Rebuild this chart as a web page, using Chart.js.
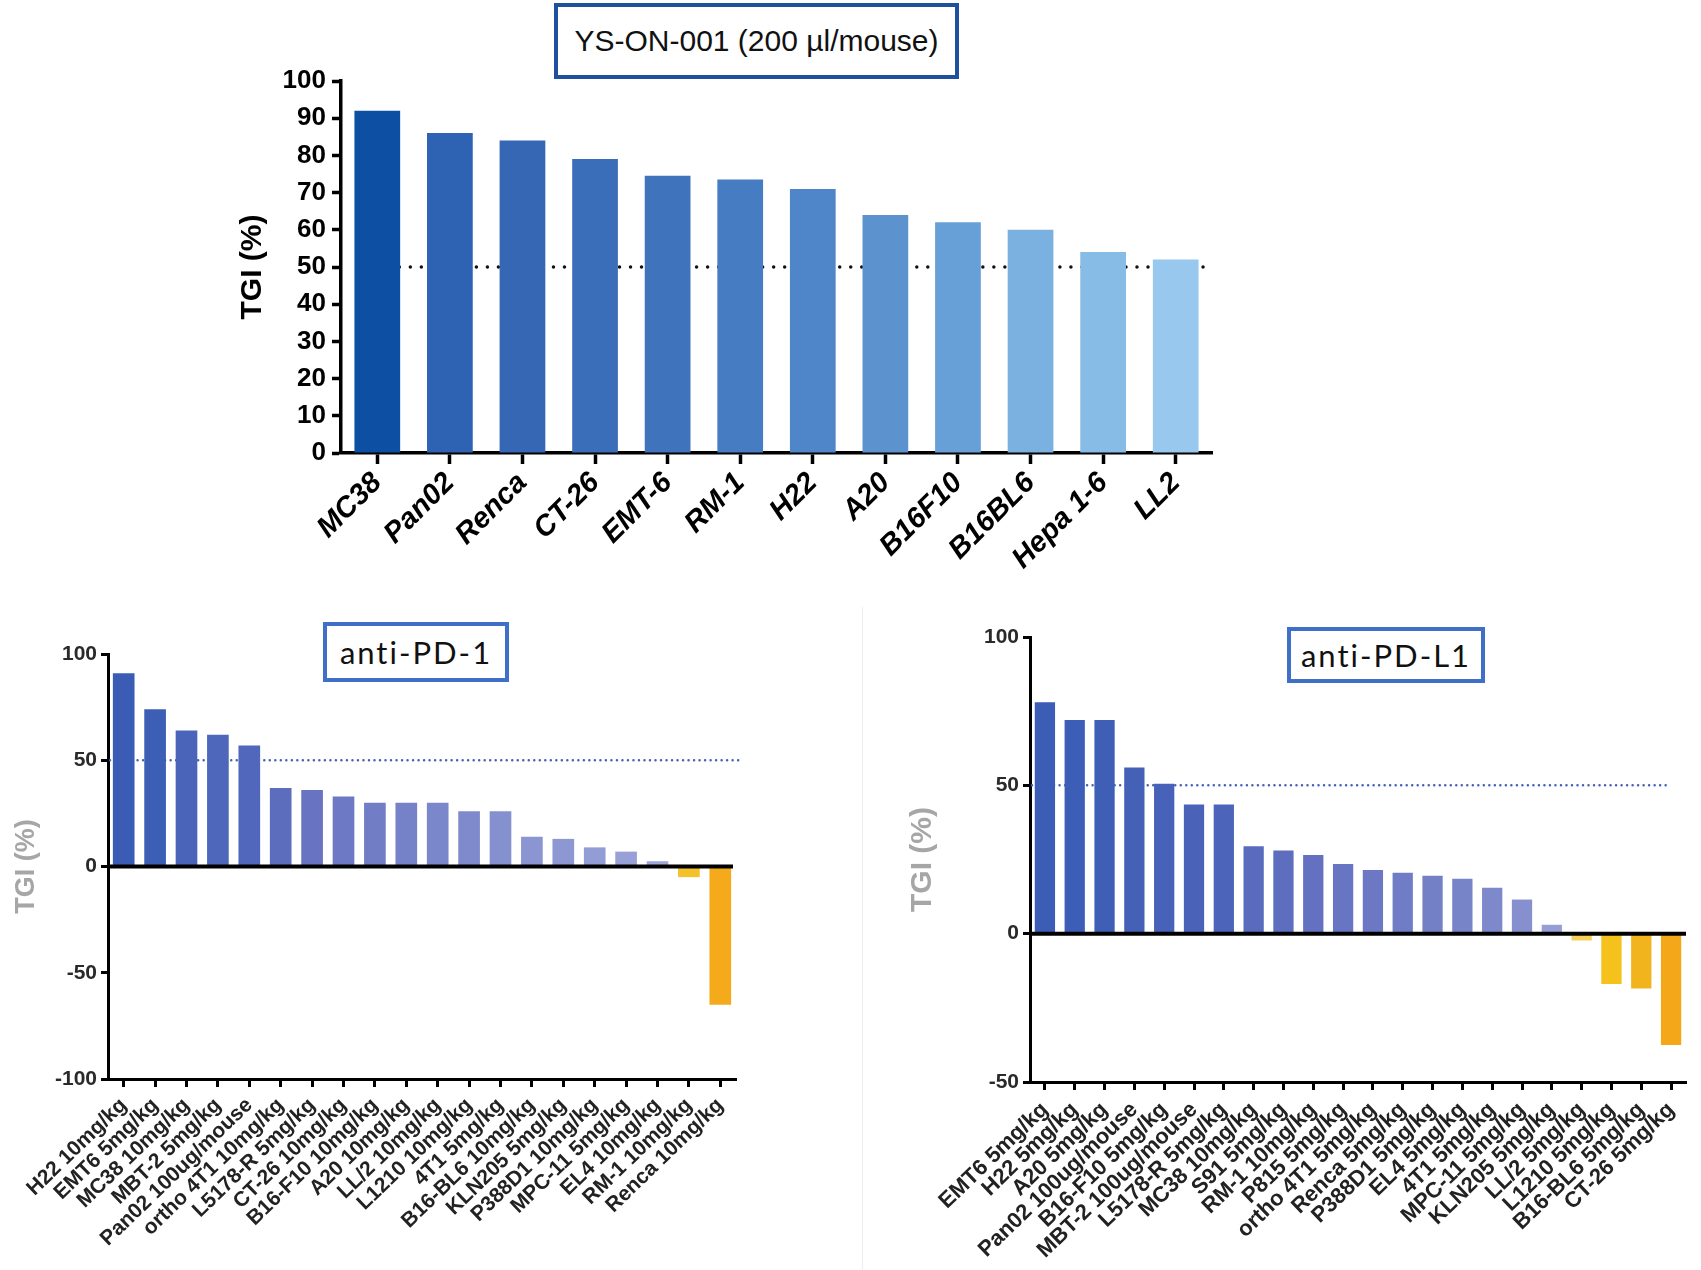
<!DOCTYPE html>
<html>
<head>
<meta charset="utf-8">
<script src="https://cdn.jsdelivr.net/npm/chart.js@4/dist/chart.umd.min.js"></script>
<style>
  html, body { margin: 0; padding: 0; background: #fff; }
  body { width: 1701px; height: 1270px; position: relative; overflow: hidden; }
  canvas { position: absolute; }
  .tbox { position: absolute; box-sizing: border-box; display: flex; align-items: center; justify-content: center; color: #111; background: #fff; }
  #boxTop { left: 554px; top: 3px; width: 405px; height: 76px; border: 4px solid #1f4f9f; font: 30px "Liberation Sans", Arial, sans-serif; }
  #boxPD1 { left: 323px; top: 622px; width: 186px; height: 60px; border: 4px solid #3f6fc6; font: 31px Lato, "Open Sans", sans-serif; letter-spacing: 2px; }
  #boxPDL1 { left: 1287px; top: 627px; width: 198px; height: 56px; border: 4px solid #3f6fc6; font: 31px Lato, "Open Sans", sans-serif; letter-spacing: 2px; }
  #sepV { position: absolute; left: 862px; top: 607px; width: 1px; height: 663px; background: #efefef; }
</style>
</head>
<body>
<div id="sepV"></div>
<canvas id="cTop" width="1080" height="580" style="left:180px;top:0px"></canvas>
<canvas id="cPD1" width="860" height="670" style="left:0px;top:600px"></canvas>
<canvas id="cPDL1" width="839" height="670" style="left:862px;top:600px"></canvas>
<div class="tbox" id="boxTop">YS-ON-001 (200 µl/mouse)</div>
<div class="tbox" id="boxPD1">anti-PD-1</div>
<div class="tbox" id="boxPDL1">anti-PD-L1</div>
<script>
// ---------------- DATA ----------------
const topCategories = ['MC38', 'Pan02', 'Renca', 'CT-26', 'EMT-6', 'RM-1', 'H22', 'A20', 'B16F10', 'B16BL6', 'Hepa 1-6', 'LL2'];
const topValues = [92, 86, 84, 79, 74.5, 73.5, 71, 64, 62, 60, 54, 52];

const pd1Categories = ['H22 10mg/kg', 'EMT6 5mg/kg', 'MC38 10mg/kg', 'MBT-2 5mg/kg', 'Pan02 100ug/mouse', 'ortho 4T1 10mg/kg', 'L5178-R 5mg/kg', 'CT-26 10mg/kg', 'B16-F10 10mg/kg', 'A20 10mg/kg', 'LL/2 10mg/kg', 'L1210 10mg/kg', '4T1 5mg/kg', 'B16-BL6 10mg/kg', 'KLN205 5mg/kg', 'P388D1 10mg/kg', 'MPC-11 5mg/kg', 'EL4 10mg/kg', 'RM-1 10mg/kg', 'Renca 10mg/kg'];
const pd1Values = [91, 74, 64, 62, 57, 37, 36, 33, 30, 30, 30, 26, 26, 14, 13, 9, 7, 2.5, -5, -65];

const pdl1Categories = ['EMT6 5mg/kg', 'H22 5mg/kg', 'A20 5mg/kg', 'Pan02 100ug/mouse', 'B16-F10 5mg/kg', 'MBT-2 100ug/mouse', 'L5178-R 5mg/kg', 'MC38 10mg/kg', 'S91 5mg/kg', 'RM-1 10mg/kg', 'P815 5mg/kg', 'ortho 4T1 5mg/kg', 'Renca 5mg/kg', 'P388D1 5mg/kg', 'EL4 5mg/kg', '4T1 5mg/kg', 'MPC-11 5mg/kg', 'KLN205 5mg/kg', 'LL/2 5mg/kg', 'L1210 5mg/kg', 'B16-BL6 5mg/kg', 'CT-26 5mg/kg'];
const pdl1Values = [78, 72, 72, 56, 50.5, 43.5, 43.5, 29.5, 28, 26.5, 23.5, 21.5, 20.5, 19.5, 18.5, 15.5, 11.5, 3, -2.3, -17, -18.5, -37.5];

const yTitle = 'TGI (%)';
const thresholdValue = 50;

// ---------------- STYLES ----------------
const topColors = ['#0c4fa3', '#2e62b3', '#3567b5', '#3b6eb9', '#3f73bc', '#467cc2', '#4f86c9', '#5c93cf', '#66a0d7', '#7bb1e0', '#87bce6', '#98c8ee'];
const pd1Colors = ['#3a5cb5', '#3c5eb5', '#4a64b9', '#4e67ba', '#5067bb', '#5d6dbe', '#6874c2', '#6d79c4', '#717ec6', '#7582c8', '#7a87ca', '#7e8acc', '#8590cf', '#8a95d1', '#8d98d3', '#929dd5', '#98a1d7', '#9fa7da', '#f3c12c', '#f5aa1c'];
const pdl1Colors = ['#3c5db6', '#3d5eb6', '#3f5fb6', '#4460b7', '#4762b8', '#4a63b8', '#4c64b9', '#5a6bbd', '#5e6ebe', '#6371c0', '#6875c2', '#6c78c3', '#707cc5', '#7480c6', '#7884c8', '#7d89ca', '#8690cf', '#959fd6', '#f6cf5a', '#f5c11d', '#f2b41d', '#f5a71a'];

const SANS = '"Liberation Sans", Arial, Helvetica, sans-serif';

// ---------------- PLUGINS ----------------
const refLinePlugin = {
  id: 'refLine',
  beforeDatasetsDraw(chart, args, o) {
    if (!o || !o.show) return;
    const {ctx, chartArea, scales} = chart;
    const y = scales.y.getPixelForValue(o.value);
    let x0 = chartArea.left + (o.startOffset || 0);
    let x1 = chartArea.right + (o.endOffset || 0);
    if (o.fromFirst) x0 = scales.x.getPixelForValue(0);
    if (o.toLast) x1 = scales.x.getPixelForValue(scales.x.getLabels().length - 1);
    ctx.save();
    ctx.strokeStyle = o.color;
    ctx.lineWidth = o.width;
    ctx.lineCap = 'round';
    ctx.setLineDash([0.01, o.gap]);
    ctx.beginPath();
    ctx.moveTo(x0, y);
    ctx.lineTo(x1, y);
    ctx.stroke();
    ctx.restore();
  }
};
const zeroLinePlugin = {
  id: 'zeroLine',
  afterDatasetsDraw(chart, args, o) {
    if (!o || !o.show) return;
    const {ctx, chartArea, scales} = chart;
    const y = scales.y.getPixelForValue(0);
    ctx.save();
    ctx.strokeStyle = '#000';
    ctx.lineWidth = o.width;
    ctx.beginPath();
    ctx.moveTo(chartArea.left, y);
    ctx.lineTo(chartArea.right + (o.endOffset || 0), y);
    ctx.stroke();
    ctx.restore();
  }
};

function makeChart(id, cfg) {
  return new Chart(document.getElementById(id), {
    type: 'bar',
    data: {
      labels: cfg.labels,
      datasets: [{
        data: cfg.values,
        backgroundColor: cfg.colors,
        borderWidth: 0,
        barPercentage: cfg.barPct,
        categoryPercentage: 1
      }]
    },
    plugins: [refLinePlugin, zeroLinePlugin],
    options: {
      responsive: false,
      animation: false,
      devicePixelRatio: 1,
      layout: { padding: cfg.padding },
      plugins: {
        legend: { display: false },
        tooltip: { enabled: false },
        refLine: cfg.refLine,
        zeroLine: cfg.zeroLine
      },
      scales: {
        x: {
          type: 'category',
          offset: true,
          border: { display: true, color: '#000', width: cfg.axisWidth },
          grid: { display: true, offset: false, drawOnChartArea: false, drawTicks: true, tickLength: cfg.xTickLen, tickWidth: cfg.axisWidth, tickColor: '#000' },
          ticks: {
            autoSkip: false, minRotation: cfg.rot, maxRotation: cfg.rot, padding: cfg.xPad,
            color: cfg.xColor, font: cfg.xFont
          },
          afterFit(scale) { scale.height = cfg.xHeight; }
        },
        y: {
          min: cfg.yMin, max: cfg.yMax,
          border: { display: true, color: '#000', width: cfg.axisWidth },
          grid: { display: true, drawOnChartArea: false, drawTicks: true, tickLength: cfg.yTickLen, tickWidth: cfg.axisWidth, tickColor: '#000' },
          ticks: { stepSize: cfg.yStep, padding: cfg.yPad, color: cfg.yColor, font: cfg.yFont },
          title: { display: true, text: yTitle, color: cfg.titleColor, font: cfg.titleFont, padding: { top: 4, bottom: 4 } },
          afterFit(scale) { scale.width = cfg.yWidth; }
        }
      }
    }
  });
}

// Top chart: chart area full-page x 341..1212, y 81..453 ; canvas at left 180
makeChart('cTop', {
  labels: topCategories, values: topValues, colors: topColors, barPct: 0.63,
  padding: { left: 51, right: 48, top: 81, bottom: 0 },
  yWidth: 110, xHeight: 127,
  yMin: 0, yMax: 100, yStep: 10,
  axisWidth: 3.5, xTickLen: 11, yTickLen: 9, xPad: 2, yPad: 6, rot: 45,
  xColor: '#000', yColor: '#000',
  xFont: { family: SANS, size: 29, weight: 'bold', style: 'italic' },
  yFont: { family: SANS, size: 26, weight: 'bold' },
  titleColor: '#000', titleFont: { family: SANS, size: 30, weight: 'bold' },
  refLine: { show: true, value: thresholdValue, color: '#111', width: 3.5, gap: 11, fromFirst: true, endOffset: -8 },
  zeroLine: { show: false }
});

// anti-PD-1: chart area full-page x 108..736, y 654..1079 ; canvas at (0,600)
makeChart('cPD1', {
  labels: pd1Categories, values: pd1Values, colors: pd1Colors, barPct: 0.69,
  padding: { left: 6, right: 124, top: 54, bottom: 0 },
  yWidth: 102, xHeight: 191,
  yMin: -100, yMax: 100, yStep: 50,
  axisWidth: 3, xTickLen: 8, yTickLen: 7, xPad: 6, yPad: 4, rot: 44,
  xColor: '#222', yColor: '#2a2a2a',
  xFont: { family: SANS, size: 21, weight: 'bold' },
  yFont: { family: SANS, size: 21, weight: 'bold' },
  titleColor: '#a6a6a6', titleFont: { family: SANS, size: 27, weight: 'bold' },
  refLine: { show: true, value: thresholdValue, color: '#4560b4', width: 2.5, gap: 5.5, startOffset: 2, endOffset: 4 },
  zeroLine: { show: true, width: 4, endOffset: -3 }
});

// anti-PD-L1: chart area full-page x 1030..1686, y 637..1082 ; canvas at (862,600)
makeChart('cPDL1', {
  labels: pdl1Categories, values: pdl1Values, colors: pdl1Colors, barPct: 0.68,
  padding: { left: 39, right: 15, top: 37, bottom: 0 },
  yWidth: 129, xHeight: 188,
  yMin: -50, yMax: 100, yStep: 50,
  axisWidth: 3, xTickLen: 8, yTickLen: 7, xPad: 7, yPad: 4, rot: 44,
  xColor: '#222', yColor: '#2a2a2a',
  xFont: { family: SANS, size: 22, weight: 'bold' },
  yFont: { family: SANS, size: 21, weight: 'bold' },
  titleColor: '#a6a6a6', titleFont: { family: SANS, size: 30, weight: 'bold' },
  refLine: { show: true, value: thresholdValue, color: '#4560b4', width: 2.5, gap: 5.5, startOffset: 2, toLast: true },
  zeroLine: { show: true, width: 4, endOffset: 0 }
});
</script>
</body>
</html>
